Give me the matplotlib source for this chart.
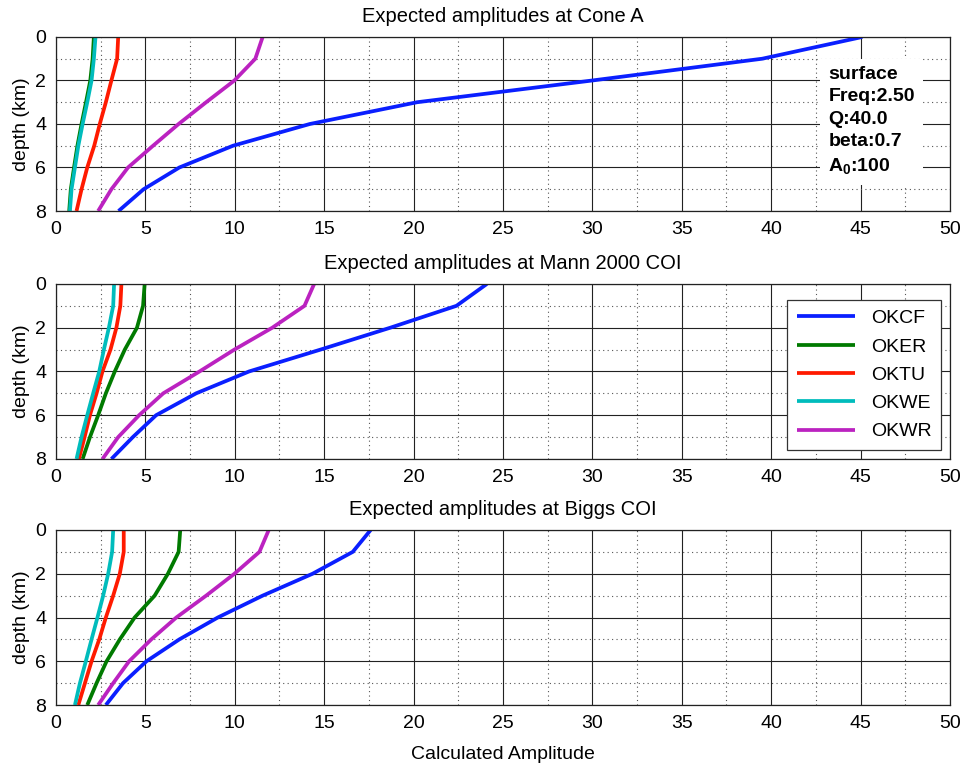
import matplotlib
matplotlib.use("Agg")
import matplotlib.pyplot as plt
from matplotlib.ticker import MultipleLocator

plt.rcParams['font.family'] = ['Liberation Sans', 'DejaVu Sans']
plt.rcParams['mathtext.fontset'] = 'custom'
plt.rcParams['mathtext.rm'] = 'Liberation Sans'
plt.rcParams['mathtext.bf'] = 'Liberation Sans:bold'

depth = [0, 1, 2, 3, 4, 5, 6, 7, 8]
stations = ['OKCF', 'OKER', 'OKTU', 'OKWE', 'OKWR']
colors = ['#0a1fff', '#007a00', '#ff1a00', '#00bcbc', '#bb22c0']

titles = ['Expected amplitudes at Cone A',
          'Expected amplitudes at Mann 2000 COI',
          'Expected amplitudes at Biggs COI']

# Cone A
coneA_OKCF = [45.1, 39.5, 30.0, 20.2, 14.2, 9.9, 6.9, 4.9, 3.5]
coneA_OKER = [2.12, 2.05, 1.92, 1.68, 1.43, 1.20, 1.01, 0.83, 0.74]
coneA_OKTU = [3.48, 3.42, 3.10, 2.79, 2.45, 2.14, 1.75, 1.43, 1.15]
coneA_OKWE = [2.21, 2.12, 1.99, 1.75, 1.49, 1.25, 1.06, 0.87, 0.78]
coneA_OKWR = [11.56, 11.15, 9.98, 8.4, 6.86, 5.43, 4.03, 3.1, 2.36]

# Mann 2000 COI
mann_OKCF = [24.1, 22.4, 18.7, 14.8, 10.8, 7.84, 5.6, 4.3, 3.1]
mann_OKER = [4.96, 4.87, 4.53, 3.85, 3.29, 2.79, 2.36, 1.90, 1.49]
mann_OKTU = [3.66, 3.60, 3.38, 3.05, 2.60, 2.27, 1.90, 1.60, 1.28]
mann_OKWE = [3.25, 3.20, 2.96, 2.68, 2.42, 2.08, 1.75, 1.43, 1.15]
mann_OKWR = [14.44, 13.9, 12.1, 9.98, 8.03, 6.0, 4.65, 3.48, 2.6]

# Biggs COI
biggs_OKCF = [17.6, 16.6, 14.35, 11.56, 9.05, 6.9, 5.06, 3.75, 2.79]
biggs_OKER = [6.95, 6.86, 6.26, 5.52, 4.40, 3.57, 2.83, 2.27, 1.75]
biggs_OKTU = [3.79, 3.79, 3.57, 3.20, 2.79, 2.42, 1.99, 1.62, 1.25]
biggs_OKWE = [3.20, 3.14, 2.92, 2.64, 2.32, 1.99, 1.67, 1.34, 1.06]
biggs_OKWR = [11.9, 11.38, 9.98, 8.4, 6.73, 5.33, 4.09, 3.2, 2.36]

panels = [
    [coneA_OKCF, coneA_OKER, coneA_OKTU, coneA_OKWE, coneA_OKWR],
    [mann_OKCF, mann_OKER, mann_OKTU, mann_OKWE, mann_OKWR],
    [biggs_OKCF, biggs_OKER, biggs_OKTU, biggs_OKWE, biggs_OKWR],
]

info_lines = ['surface', 'Freq:2.50', 'Q:40.0', 'beta:0.7', r'A$_{\mathbf{0}}$:100']

fig = plt.figure(figsize=(9.65, 7.67), dpi=100)
fig.patch.set_facecolor('white')

positions = [
    [0.058, 0.7249, 0.9264, 0.2269],
    [0.058, 0.4016, 0.9264, 0.2282],
    [0.058, 0.0808, 0.9264, 0.2282],
]

axes = []
for i, (pos, series) in enumerate(zip(positions, panels)):
    ax = fig.add_axes(pos)
    for name, vals, col in zip(stations, series, colors):
        ax.plot(vals, depth, color=col, lw=2.7, label=name, solid_capstyle='butt')
    ax.set_xlim(0, 50)
    ax.set_ylim(8, 0)
    ax.xaxis.set_major_locator(MultipleLocator(5))
    ax.xaxis.set_minor_locator(MultipleLocator(2.5))
    ax.yaxis.set_major_locator(MultipleLocator(2))
    ax.yaxis.set_minor_locator(MultipleLocator(1))
    ax.grid(which='major', color='#222222', lw=0.8, ls='-')
    ax.grid(which='minor', color='#555555', lw=0.8, ls=(0, (1, 3)))
    ax.set_axisbelow(True)
    ax.tick_params(which='both', direction='in', length=0, labelsize=14, pad=7)
    for sp in ax.spines.values():
        sp.set_color('#222222')
        sp.set_linewidth(0.9)
    ax.set_title(titles[i], fontsize=14.5, pad=10.5)
    ax.set_ylabel('depth (km)', fontsize=14, labelpad=4)
    axes.append(ax)

axes[0].text(43.2, 1.33, '\n'.join(info_lines), fontsize=14, fontweight='bold',
             va='top', ha='left', linespacing=1.42,
             bbox=dict(facecolor='white', edgecolor='none', pad=6))

leg = axes[1].legend(loc='upper right', bbox_to_anchor=(0.99, 0.909), fontsize=14,
                     fancybox=False, framealpha=1, edgecolor='#333333',
                     borderaxespad=0.0,
                     handlelength=3.0, labelspacing=0.55, borderpad=0.5)
leg.get_frame().set_linewidth(0.9)

axes[2].set_xlabel('Calculated Amplitude', fontsize=14, labelpad=10)

fig.savefig('out.png', dpi=100)
